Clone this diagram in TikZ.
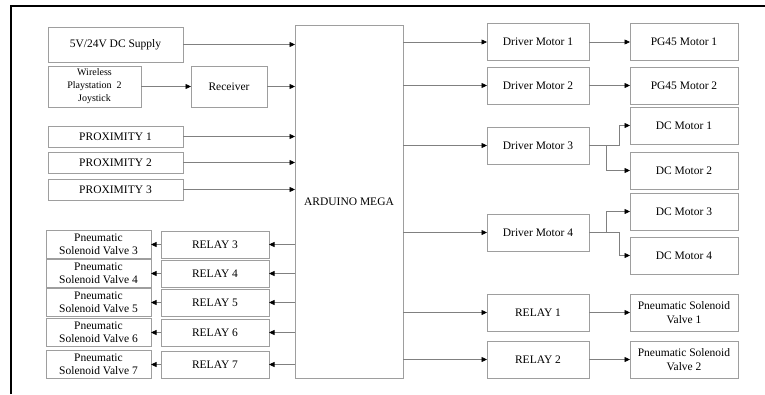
\documentclass[tikz,border=0pt]{standalone}
\usepackage{fontspec}
\setmainfont{Liberation Serif}
\usetikzlibrary{positioning, arrows.meta}
\definecolor{boxgray}{gray}{0.62}
\definecolor{wiregray}{gray}{0.5}

\begin{document}
\begin{tikzpicture}[
    x=1pt, y=-1pt,
    blk/.style={draw=boxgray, line width=0.7pt, rectangle, align=center, inner sep=1pt, outer sep=0pt, font=\fontsize{11.5}{13.5}\selectfont},
    inbox/.style={blk, minimum width=135pt, minimum height=21pt},
    relaybox/.style={blk, minimum width=108pt, minimum height=27pt},
    valvebox/.style={blk, minimum width=105pt, minimum height=28pt},
    drvbox/.style={blk, minimum width=102pt, minimum height=37pt},
    motorbox/.style={blk, minimum width=108pt, minimum height=37pt},
    arr/.style={draw=wiregray, line width=0.6pt, -{Triangle[color=black, length=5.5pt, width=5pt]}}
]
\useasboundingbox (0,0) rectangle (765,394);
% outer frame
\draw[line width=2pt, line join=miter] (11,394) -- (11,6) -- (765,6);

% inputs
\node[blk, minimum width=135pt, minimum height=35pt] (supply) at (115.5,44.5) {5V/24V DC Supply};
\node[blk, minimum width=93pt, minimum height=41pt, font=\fontsize{10}{13}\selectfont] (joystick) [below right=4pt and 0pt of supply.south west] {Wireless\\Playstation\ \ 2\\Joystick};
\node[blk, minimum width=76pt, minimum height=41pt] (receiver) [right=50pt of joystick] {Receiver};
\node[inbox] (prox1) [below right=19pt and 0pt of joystick.south west] {PROXIMITY 1};
\node[inbox] (prox2) [below=5pt of prox1] {PROXIMITY 2};
\node[inbox] (prox3) [below=6pt of prox2] {PROXIMITY 3};

% controller
\node[blk, minimum width=108pt, minimum height=353pt] (arduino) at (349,201.5) {ARDUINO MEGA};

% relays and valves on the left
\node[relaybox] (relay3) at (215,244.5) {RELAY 3};
\node[relaybox] (relay4) [below=2pt of relay3] {RELAY 4};
\node[relaybox] (relay5) [below=2pt of relay4] {RELAY 5};
\node[relaybox] (relay6) [below=3pt of relay5] {RELAY 6};
\node[relaybox] (relay7) [below=5pt of relay6] {RELAY 7};
\node[valvebox] (valve3) [left=10pt of relay3] {Pneumatic\\Solenoid Valve 3};
\node[valvebox] (valve4) [left=10pt of relay4] {Pneumatic\\Solenoid Valve 4};
\node[valvebox] (valve5) [left=10pt of relay5] {Pneumatic\\Solenoid Valve 5};
\node[valvebox] (valve6) [left=10pt of relay6] {Pneumatic\\Solenoid Valve 6};
\node[valvebox] (valve7) [left=10pt of relay7] {Pneumatic\\Solenoid Valve 7};

% drivers and relays on the right
\node[drvbox] (drv1) at (538,42) {Driver Motor 1};
\node[drvbox] (drv2) [below=6.5pt of drv1] {Driver Motor 2};
\node[drvbox] (drv3) [below=23pt of drv2] {Driver Motor 3};
\node[drvbox] (drv4) [below=50pt of drv3] {Driver Motor 4};
\node[drvbox] (relay1) [below=43pt of drv4] {RELAY 1};
\node[drvbox] (relay2) [below=10pt of relay1] {RELAY 2};

% motors and valves on the right
\node[motorbox] (pg1) [right=41pt of drv1] {PG45 Motor 1};
\node[motorbox] (pg2) [right=41pt of drv2] {PG45 Motor 2};
\node[motorbox] (dc1) [below=3pt of pg2] {DC Motor 1};
\node[motorbox] (dc2) [below=8pt of dc1] {DC Motor 2};
\node[motorbox] (dc3) [below=4pt of dc2] {DC Motor 3};
\node[motorbox] (dc4) [below=7pt of dc3] {DC Motor 4};
\node[motorbox] (valve1) [right=41pt of relay1] {Pneumatic Solenoid\\Valve 1};
\node[motorbox] (valve2) [right=41pt of relay2] {Pneumatic Solenoid\\Valve 2};

% connections into the controller
\draw[arr] (supply) -- (supply -| arduino.west);
\draw[arr] (joystick) -- (receiver);
\draw[arr] (receiver) -- (receiver -| arduino.west);
\foreach \n in {prox1,prox2,prox3}
    \draw[arr] (\n) -- (\n -| arduino.west);

% connections out of the controller
\foreach \n in {3,...,7} {
    \draw[arr] (relay\n -| arduino.west) -- (relay\n);
    \draw[arr] (relay\n) -- (valve\n);
}
\foreach \n in {drv1,drv2,drv3,drv4,relay1,relay2}
    \draw[arr] (arduino.east |- \n) -- (\n);
\draw[arr] (drv1) -- (pg1);
\draw[arr] (drv2) -- (pg2);
\draw[arr] (drv3.east) -- ++(30,0) |- (dc1);
\draw[arr] (drv3.east) -- ++(17,0) |- (dc2);
\draw[arr] (drv4.east) -- ++(17,0) |- (dc3);
\draw[arr] (drv4.east) -- ++(30,0) |- (dc4);
\draw[arr] (relay1) -- (valve1);
\draw[arr] (relay2) -- (valve2);
\end{tikzpicture}
\end{document}
